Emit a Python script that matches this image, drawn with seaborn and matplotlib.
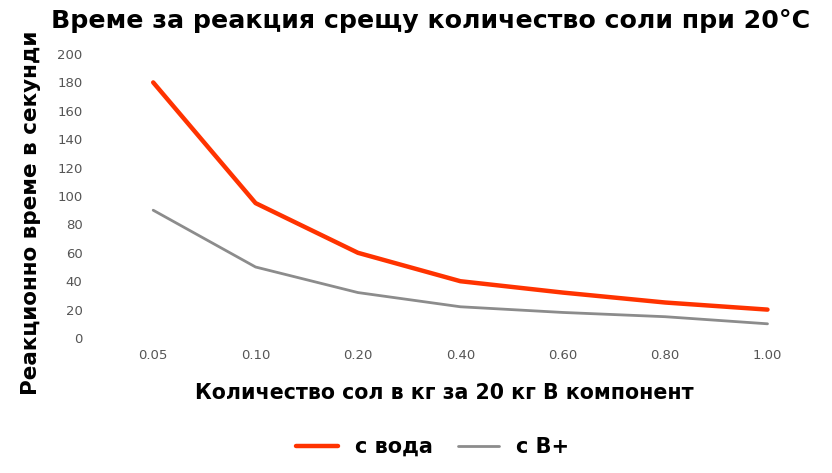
import pandas as pd
import seaborn as sns
import matplotlib.pyplot as plt

# Data
salt = ["0.05", "0.10", "0.20", "0.40", "0.60", "0.80", "1.00"]
water = [180, 95, 60, 40, 32, 25, 20]
b_plus = [90, 50, 32, 22, 18, 15, 10]

df = pd.DataFrame({
    "salt": salt * 2,
    "time": water + b_plus,
    "series": ["с вода"] * len(salt) + ["с B+"] * len(salt),
})

sns.set_theme(style="white")
plt.rcParams['font.family'] = ['DejaVu Sans']
plt.rcParams['text.color'] = 'black'

fig = plt.figure(figsize=(8.32, 4.73), dpi=100)
ax = fig.add_axes([0.1226, 0.2854, 0.8614, 0.6004])

sns.lineplot(data=df, x="salt", y="time", hue="series", sort=False,
             palette={"с вода": "#ff3300", "с B+": "#8c8c8c"},
             size="series", sizes={"с вода": 3.2, "с B+": 2.0},
             ax=ax, legend=False)

ax.set_ylim(0, 200)
ax.set_xlim(-0.5, len(salt) - 0.5)
ax.set_yticks(range(0, 201, 20))
ax.tick_params(axis='both', labelsize=9.5, labelcolor='#555555', length=0)
ax.tick_params(axis='x', pad=8)
ax.tick_params(axis='y', pad=14)
for s in ax.spines.values():
    s.set_visible(False)
ax.grid(False)

ax.set_xlabel("")
ax.set_ylabel("")
fig.text(0.518, 0.98, "Време за реакция срещу количество соли при 20°C",
         ha='center', va='top', fontsize=18.2, fontweight='bold')
fig.text(0.037, 0.55, "Реакционно време в секунди", rotation=90,
         ha='center', va='center', fontsize=15.5, fontweight='bold')
fig.text(0.534, 0.169, "Количество сол в кг за 20 кг B компонент",
         ha='center', va='center', fontsize=14.8, fontweight='bold')

handles = [plt.Line2D([], [], color="#ff3300", lw=3.2),
           plt.Line2D([], [], color="#8c8c8c", lw=2.0)]
fig.legend(handles, ["с вода", "с B+"], loc='center', bbox_to_anchor=(0.52, 0.055),
           ncol=2, frameon=False, prop={'size': 15, 'weight': 'bold'},
           handlelength=2.0, handletextpad=0.8, columnspacing=1.2)

fig.savefig("out.png", dpi=100)
